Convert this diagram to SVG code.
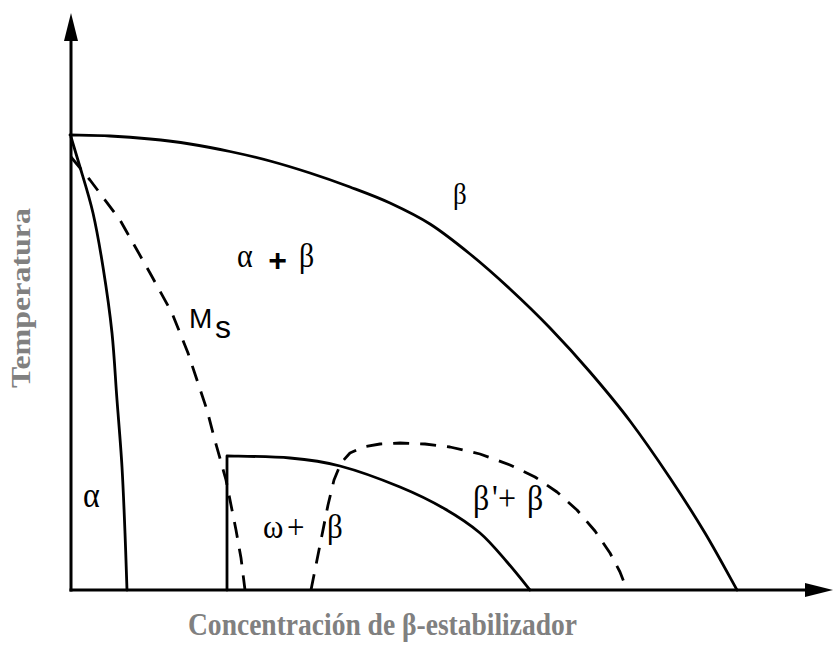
<svg xmlns="http://www.w3.org/2000/svg" width="833" height="647" viewBox="0 0 833 647">
<style>
.ax{stroke:#000;stroke-width:3;fill:none}
.solid{stroke:#000;stroke-width:2.8;fill:none;stroke-linecap:round;stroke-linejoin:round}
.dash{stroke:#000;stroke-width:2.8;fill:none;stroke-dasharray:16 11;stroke-linejoin:round}
.lbl{font-family:"Liberation Serif","Times New Roman",serif;fill:#000}
.sans{font-family:"Liberation Sans",Arial,sans-serif;fill:#000}
.title{font-family:"Liberation Serif","Times New Roman",serif;font-weight:bold;fill:#808080}
</style>
<defs>
<marker id="arrow" viewBox="0 0 28 14" refX="18" refY="7" markerWidth="28" markerHeight="14" markerUnits="userSpaceOnUse" orient="auto">
<path d="M0,0 L28,7 L0,14 z" fill="#000"/>
</marker>
</defs>
<rect width="833" height="647" fill="#fff"/>
<g id="axes">
<line class="ax" x1="71" y1="591.5" x2="71" y2="23" marker-end="url(#arrow)"/>
<line class="ax" x1="69.5" y1="590" x2="823" y2="590" marker-end="url(#arrow)"/>
</g>
<g id="curves">
<path id="beta-transus" class="solid" d="M70,135 C76.7,135.2 96.7,135.3 110,136 C123.3,136.7 136.7,137.7 150,139 C163.3,140.3 176.7,141.9 190,144 C203.3,146.1 216.7,148.7 230,151.5 C243.3,154.3 256.7,157.4 270,161 C283.3,164.6 296.7,168.7 310,173 C323.3,177.3 336.7,182 350,187 C363.3,192 376.7,196.8 390,203 C403.3,209.2 416.7,215.5 430,224 C443.3,232.5 456.7,243.2 470,254 C483.3,264.8 496.7,276.7 510,289 C523.3,301.3 536.7,314.2 550,328 C563.3,341.8 576.7,356.5 590,372 C603.3,387.5 616.7,403.3 630,421 C643.3,438.7 657.5,459.3 670,478 C682.5,496.7 693.8,514.3 705,533 C716.2,551.7 731.7,580.5 737,590"/>
<path id="alpha-solvus" class="solid" d="M71,137 C72.5,142 76.2,154.3 80,167 C83.8,179.7 89.2,196.3 93,213 C96.8,229.7 99.8,247 103,267 C106.2,287 109.7,310.8 112,333 C114.3,355.2 115.3,377.7 117,400 C118.7,422.3 120.7,444.8 122,467 C123.3,489.2 124.2,512.5 125,533 C125.8,553.5 126.7,580.5 127,590"/>
<polyline id="ms-line" class="dash" points="71,157 90,180 120,220 150,273 172,313 188,353 198,383 207,410 214,437 221,462 226,480 231,505 236,530 241,558 245,590"/>
<path id="omega-box" class="solid" d="M227,590 L227,456 C237.5,456.3 271.2,456.3 290,458 C308.8,459.7 321.7,461.2 340,466 C358.3,470.8 382.5,479.8 400,487 C417.5,494.2 431.7,501.3 445,509 C458.3,516.7 469.7,524.2 480,533 C490.3,541.8 498.7,552.5 507,562 C515.3,571.5 526.2,585.3 530,590"/>
<polyline id="beta-prime-dome" class="dash" points="311,590 316,565 322,535 328,505 334,480 341,463 350,453 363,447 380,444 400,443 425,444 450,447 480,454 510,465 535,477 557,492 577,510 595,531 610,553 620,572 627,590"/>
</g>
<g id="labels">
<text class="lbl" x="453" y="204" font-size="27" transform="matrix(1,0,0,1.08,0,-16.3)">β</text>
<text class="lbl" y="267" font-size="30" transform="matrix(1,0,0,1.12,0,-32.04)"><tspan x="237">α</tspan><tspan x="299">β</tspan></text>
<text class="sans" x="277.5" y="271" font-size="32" font-weight="bold" text-anchor="middle">+</text>
<text class="sans" x="189" y="328" font-size="28">M<tspan x="215" y="338" font-size="32">s</tspan></text>
<text class="lbl" x="83" y="507" font-size="32" transform="matrix(1,0,0,1.1,0,-50.7)">α</text>
<text class="lbl" y="538" font-size="31" transform="matrix(1,0,0,1.1,0,-53.8)"><tspan x="263">ω</tspan><tspan x="287">+</tspan><tspan x="327">β</tspan></text>
<text class="lbl" y="510" font-size="32" transform="matrix(1,0,0,1.1,0,-51)"><tspan x="473">β</tspan><tspan x="492">'</tspan><tspan x="498">+</tspan><tspan x="527">β</tspan></text>
</g>
<g id="titles">
<text class="title" transform="translate(30,298) rotate(-90)" x="0" y="0" font-size="27" text-anchor="middle" textLength="180" lengthAdjust="spacingAndGlyphs">Temperatura</text>
<text class="title" x="382.5" y="635" font-size="32" text-anchor="middle" textLength="389" lengthAdjust="spacingAndGlyphs">Concentración de β-estabilizador</text>
</g>
</svg>
